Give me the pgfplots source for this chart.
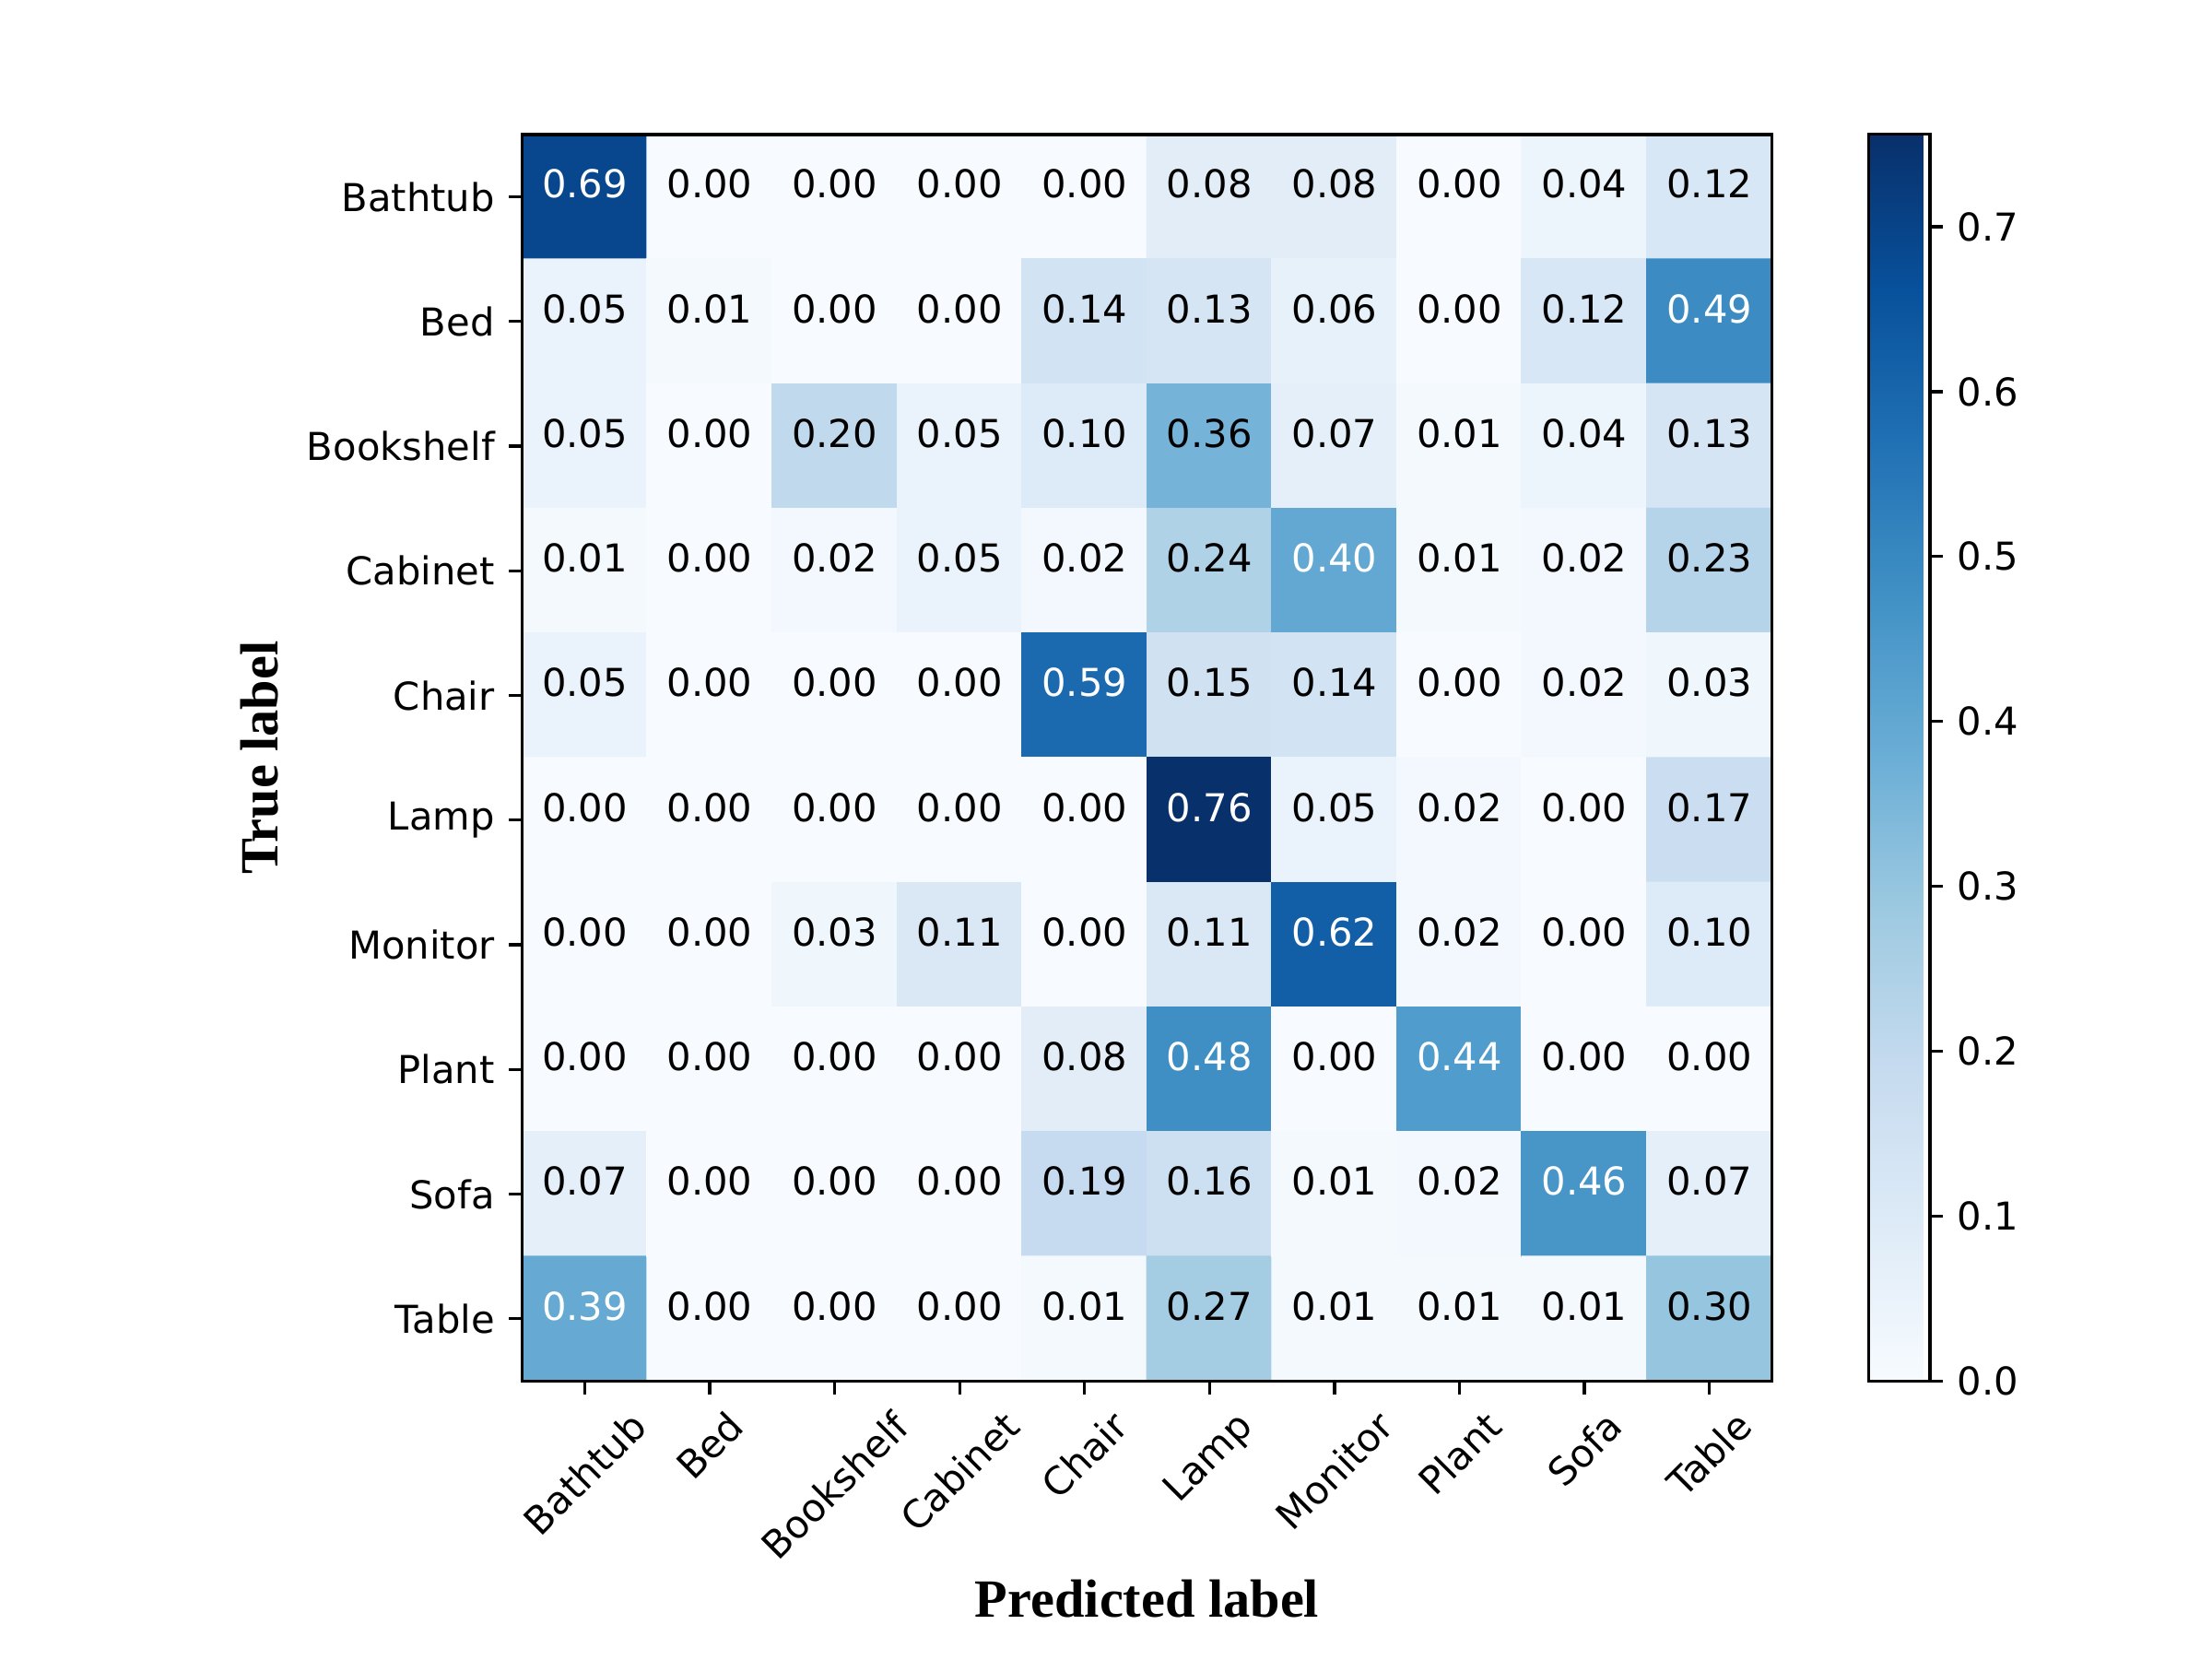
\documentclass[border=0pt]{standalone}
\usepackage{fontspec}
\setmainfont{DejaVu Sans}
\newfontfamily\labelfont{Liberation Serif}
\usepackage{graphicx}
\usepackage{pgfplots}
\usepackage{pgfplotstable}
\pgfplotsset{compat=1.18}

% confusion matrix: x = predicted, y = true, v = fraction
\pgfplotstableread[row sep=\\]{
x y v\\
0 0 0.69\\ 1 0 0.00\\ 2 0 0.00\\ 3 0 0.00\\ 4 0 0.00\\ 5 0 0.08\\ 6 0 0.08\\ 7 0 0.00\\ 8 0 0.04\\ 9 0 0.12\\
0 1 0.05\\ 1 1 0.01\\ 2 1 0.00\\ 3 1 0.00\\ 4 1 0.14\\ 5 1 0.13\\ 6 1 0.06\\ 7 1 0.00\\ 8 1 0.12\\ 9 1 0.49\\
0 2 0.05\\ 1 2 0.00\\ 2 2 0.20\\ 3 2 0.05\\ 4 2 0.10\\ 5 2 0.36\\ 6 2 0.07\\ 7 2 0.01\\ 8 2 0.04\\ 9 2 0.13\\
0 3 0.01\\ 1 3 0.00\\ 2 3 0.02\\ 3 3 0.05\\ 4 3 0.02\\ 5 3 0.24\\ 6 3 0.40\\ 7 3 0.01\\ 8 3 0.02\\ 9 3 0.23\\
0 4 0.05\\ 1 4 0.00\\ 2 4 0.00\\ 3 4 0.00\\ 4 4 0.59\\ 5 4 0.15\\ 6 4 0.14\\ 7 4 0.00\\ 8 4 0.02\\ 9 4 0.03\\
0 5 0.00\\ 1 5 0.00\\ 2 5 0.00\\ 3 5 0.00\\ 4 5 0.00\\ 5 5 0.76\\ 6 5 0.05\\ 7 5 0.02\\ 8 5 0.00\\ 9 5 0.17\\
0 6 0.00\\ 1 6 0.00\\ 2 6 0.03\\ 3 6 0.11\\ 4 6 0.00\\ 5 6 0.11\\ 6 6 0.62\\ 7 6 0.02\\ 8 6 0.00\\ 9 6 0.10\\
0 7 0.00\\ 1 7 0.00\\ 2 7 0.00\\ 3 7 0.00\\ 4 7 0.08\\ 5 7 0.48\\ 6 7 0.00\\ 7 7 0.44\\ 8 7 0.00\\ 9 7 0.00\\
0 8 0.07\\ 1 8 0.00\\ 2 8 0.00\\ 3 8 0.00\\ 4 8 0.19\\ 5 8 0.16\\ 6 8 0.01\\ 7 8 0.02\\ 8 8 0.46\\ 9 8 0.07\\
0 9 0.39\\ 1 9 0.00\\ 2 9 0.00\\ 3 9 0.00\\ 4 9 0.01\\ 5 9 0.27\\ 6 9 0.01\\ 7 9 0.01\\ 8 9 0.01\\ 9 9 0.30\\
}\cm

\begin{document}
\begin{tikzpicture}
\useasboundingbox (0,0) rectangle (576pt,432pt);
\begin{axis}[
    at={(136pt,72.4pt)}, anchor=south west,
    scale only axis, width=325.4pt, height=324.6pt,
    xmin=-0.5, xmax=9.5, ymin=-0.5, ymax=9.5,
    y dir=reverse,
    axis on top,
    axis line style={line width=0.8pt},
    tick style={line width=0.8pt, black},
    tick align=outside, major tick length=3.5pt,
    xtick pos=bottom, ytick pos=left,
    xtick={0,...,9}, ytick={0,...,9},
    xticklabels={\rotatebox{45}{Bathtub},\rotatebox{45}{Bed},\rotatebox{45}{Bookshelf},\rotatebox{45}{Cabinet},\rotatebox{45}{Chair},\rotatebox{45}{Lamp},\rotatebox{45}{Monitor},\rotatebox{45}{Plant},\rotatebox{45}{Sofa},\rotatebox{45}{Table}},
    yticklabels={Bathtub,Bed,Bookshelf,Cabinet,Chair,Lamp,Monitor,Plant,Sofa,Table},
    tick label style={font=\fontsize{10}{12}\selectfont},
    xticklabel style={anchor=north, inner sep=3.5pt},
    yticklabel style={anchor=east, inner sep=3.5pt},
    xlabel={\labelfont\bfseries\fontsize{14}{17}\selectfont Predicted label},
    ylabel={\labelfont\bfseries\fontsize{14}{17}\selectfont True label},
    xlabel style={at={(axis description cs:0.5,-0.1893)}, anchor=base},
    ylabel style={at={(axis description cs:-0.1955,0.5)}, anchor=base},
    colormap={blues}{rgb255=(247,251,255) rgb255=(222,235,247) rgb255=(198,219,239) rgb255=(158,202,225) rgb255=(107,174,214) rgb255=(66,146,198) rgb255=(33,113,181) rgb255=(8,81,156) rgb255=(8,48,107)},
    point meta min=0, point meta max=0.756,
    colorbar,
    colorbar style={
        at={(parent axis.north east)}, anchor=north west, xshift=16.6pt,
        width=16pt,
        axis line style={line width=0.8pt},
        tick style={line width=0.8pt, black},
        tick align=outside, major tick length=3.5pt,
        ytick pos=right,
        ytick={0,0.1,...,0.7},
        yticklabel style={font=\fontsize{10}{12}\selectfont, inner sep=3.5pt,
            /pgf/number format/.cd, fixed, fixed zerofill, precision=1, assume math mode=true},
    },
]
\addplot[matrix plot*, mesh/cols=10, point meta=explicit] table[x=x, y=y, meta=v] {\cm};
\addplot[draw=none, mark=none, point meta=explicit symbolic,
    nodes near coords={\ifdim\pgfplotspointmeta pt>0.378pt\color{white}\fi\pgfplotspointmeta},
    every node near coord/.append style={anchor=center, yshift=3.3pt, font=\fontsize{10}{12}\selectfont}]
    table[x=x, y=y, meta=v] {\cm};
\end{axis}
\end{tikzpicture}
\end{document}
